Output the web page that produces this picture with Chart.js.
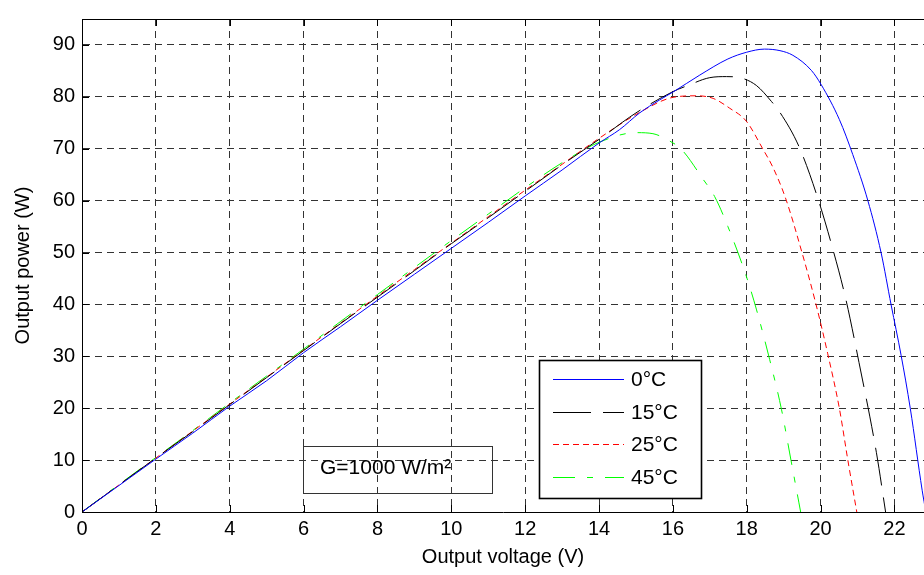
<!DOCTYPE html>
<html>
<head>
<meta charset="utf-8">
<script src="https://cdn.jsdelivr.net/npm/chart.js@4/dist/chart.umd.min.js"></script>
<style>
html,body{margin:0;padding:0;background:#fff;}
#wrap{width:924px;height:575px;}
</style>
</head>
<body>
<div id="wrap"><canvas id="c" width="924" height="575"></canvas></div>
<script>
// ---- Data ----
const seriesLabels = ['0°C', '15°C', '25°C', '45°C'];

const v0  = [0,1,2,3,4,5,6,7,8,9,10,11,12,13,14,14.56,15.1,15.64,16.02,16.73,17.49,18.0,18.48,18.9,19.25,19.75,20.02,20.51,20.87,21.28,21.64,21.91,22.18,22.43,22.75,22.85];
const p0  = [0,5.1,10.2,15.2,20.4,25.3,30.7,35.7,40.8,45.8,50.8,55.8,60.9,65.9,71.1,73.7,76.9,79.4,81.0,84.2,87.3,88.6,89.2,88.9,88.0,85.1,82.3,75.6,68.9,60.0,49.9,39.9,30.2,19.9,4.2,0];

const v15 = [0,1,2,3,4,5,6,7,8,9,10,11,12,13,14,15,16,16.41,17.0,17.45,17.81,18.26,18.67,18.89,19.41,19.9,20.31,20.68,21.04,21.51,21.76];
const p15 = [0,5.2,10.4,15.5,20.7,25.9,31.1,36.3,41.4,46.5,51.7,56.7,61.8,66.9,71.8,76.9,81.0,82.2,83.7,83.9,83.7,82.2,79.1,77.1,70.5,61.0,51.2,41.1,28.8,11.5,0];

const v25 = [0,1,2,3,4,5,6,7,8,9,10,11,12,13,14,15.1,16.0,16.64,17.09,17.54,17.99,18.44,18.71,19.05,19.5,19.88,20.19,20.51,20.74,20.98];
const p25 = [0,5.2,10.4,15.6,20.8,26.0,31.2,36.4,41.6,46.7,51.8,56.9,62.0,67.0,72.0,77.0,79.9,80.2,79.7,77.8,75.3,69.9,66.4,60.5,49.9,39.9,30.6,19.9,9.9,0];

const v45 = [0,1,2,3,4,5,6,7,8,9,10,11,12,13,14.02,15.01,15.46,15.91,16.23,16.81,17.13,17.49,17.99,18.26,18.62,18.94,19.2,19.41,19.46];
const p45 = [0,5.3,10.5,15.7,21.0,26.2,31.4,36.7,41.9,47.1,52.3,57.4,62.5,67.3,71.3,73.1,72.9,71.5,69.9,64.2,60.8,55.0,45.4,39.1,29.4,19.8,9.9,1.9,0];

const xTickStep = 2, yTickStep = 10;
const xMax = 22.8, yMax = 95;
const annotationText = 'G=1000 W/m²';

// ---- Styles ----
const colors = ['#0000ff', '#000000', '#ff0000', '#00ff00'];
const dashes = [[], [38, 12], [6, 4], [22, 12, 6, 12]];

function pts(xs, ys){ return xs.map((x,i)=>({x:x, y:ys[i]})); }
const seriesX = [v0, v15, v25, v45];
const seriesY = [p0, p15, p25, p45];

const datasets = seriesLabels.map((lab,i)=>({
  label: lab,
  data: pts(seriesX[i], seriesY[i]),
  borderColor: colors[i],
  backgroundColor: colors[i],
  borderWidth: 1,
  borderDash: dashes[i],
  pointRadius: 0,
  showLine: true,
  fill: false,
  tension: 0,
  cubicInterpolationMode: 'monotone'
}));

const FONT = 'Liberation Sans, Arial, sans-serif';

function stepTicks(max, step){
  const out = [];
  for (let v = 0; v <= max + 1e-9; v += step) out.push({ value: v });
  return out;
}

const decor = {
  id: 'decor',
  afterDatasetsDraw(chart){
    const ctx = chart.ctx, a = chart.chartArea;
    const xs = chart.scales.x, ys = chart.scales.y;
    ctx.save();
    // top border
    ctx.strokeStyle = '#000'; ctx.lineWidth = 1; ctx.setLineDash([]);
    ctx.beginPath(); ctx.moveTo(a.left, a.top + 0.5); ctx.lineTo(a.right, a.top + 0.5); ctx.stroke();
    // inward tick marks
    const tl = 7;
    xs.ticks.forEach(t=>{
      const px = Math.round(xs.getPixelForValue(t.value)) + 0.5;
      ctx.beginPath();
      ctx.moveTo(px, a.bottom); ctx.lineTo(px, a.bottom - tl);
      ctx.moveTo(px, a.top); ctx.lineTo(px, a.top + tl);
      ctx.stroke();
    });
    ys.ticks.forEach(t=>{
      const py = Math.round(ys.getPixelForValue(t.value)) + 0.5;
      ctx.beginPath(); ctx.moveTo(a.left, py); ctx.lineTo(a.left + tl, py); ctx.stroke();
    });

    // annotation box (transparent)
    const gx = 303, gy = 446, gw = 189, gh = 47;
    ctx.strokeStyle = '#333'; ctx.lineWidth = 1;
    ctx.strokeRect(gx + 0.5, gy + 0.5, gw, gh);
    ctx.fillStyle = '#000';
    ctx.font = '21px ' + FONT;
    ctx.textAlign = 'left'; ctx.textBaseline = 'middle';
    ctx.fillText(annotationText, gx + 17, gy + 22);

    // legend box
    const lx = 539, ly = 360, lw = 162, lh = 138;
    ctx.fillStyle = '#fff';
    ctx.fillRect(lx, ly, lw, lh);
    ctx.strokeStyle = '#000'; ctx.lineWidth = 1.6;
    ctx.strokeRect(lx + 0.5, ly + 0.5, lw, lh);
    const rowY = [379, 412, 444, 477];
    chart.data.datasets.forEach((ds,i)=>{
      ctx.strokeStyle = ds.borderColor; ctx.lineWidth = 1;
      ctx.setLineDash(ds.borderDash || []);
      ctx.beginPath(); ctx.moveTo(553, rowY[i] + 0.5); ctx.lineTo(624, rowY[i] + 0.5); ctx.stroke();
      ctx.setLineDash([]);
      ctx.fillStyle = '#000';
      ctx.font = '21px ' + FONT;
      ctx.textAlign = 'left'; ctx.textBaseline = 'middle';
      ctx.fillText(ds.label, 631, rowY[i] + 1);
    });
    ctx.restore();
  }
};

const gridColor = (c)=> (c.tick && c.tick.value === 0) ? 'rgba(0,0,0,0)' : '#333';

new Chart(document.getElementById('c'), {
  type: 'scatter',
  data: { datasets },
  options: {
    responsive: false,
    animation: false,
    devicePixelRatio: 1,
    layout: { padding: { top: 13, right: 0, left: 0, bottom: 0 } },
    plugins: { legend: { display: false }, tooltip: { enabled: false } },
    scales: {
      x: {
        type: 'linear', min: 0, max: xMax,
        afterBuildTicks: (s)=>{ s.ticks = stepTicks(xMax, xTickStep); },
        afterFit: (s)=>{ s.height = 63; },
        ticks: { stepSize: xTickStep, color: '#000', padding: 5, maxRotation: 0, autoSkip: false, font: { family: FONT, size: 20 } },
        grid: { color: gridColor, lineWidth: 1, drawTicks: false },
        border: { display: true, color: '#000', width: 1, dash: [7, 5] },
        title: { display: true, text: 'Output voltage (V)', color: '#000', font: { family: FONT, size: 20 }, padding: { top: 0, bottom: 6 } }
      },
      y: {
        type: 'linear', min: 0, max: yMax,
        afterBuildTicks: (s)=>{ s.ticks = stepTicks(yMax, yTickStep); },
        afterFit: (s)=>{ s.width = 82; },
        ticks: { stepSize: yTickStep, color: '#000', padding: 7, autoSkip: false, font: { family: FONT, size: 20 } },
        grid: { color: gridColor, lineWidth: 1, drawTicks: false },
        border: { display: true, color: '#000', width: 1, dash: [7, 5] },
        title: { display: true, text: 'Output power (W)', color: '#000', font: { family: FONT, size: 20 }, padding: { top: 11, bottom: 0 } }
      }
    }
  },
  plugins: [decor]
});
</script>
</body>
</html>
